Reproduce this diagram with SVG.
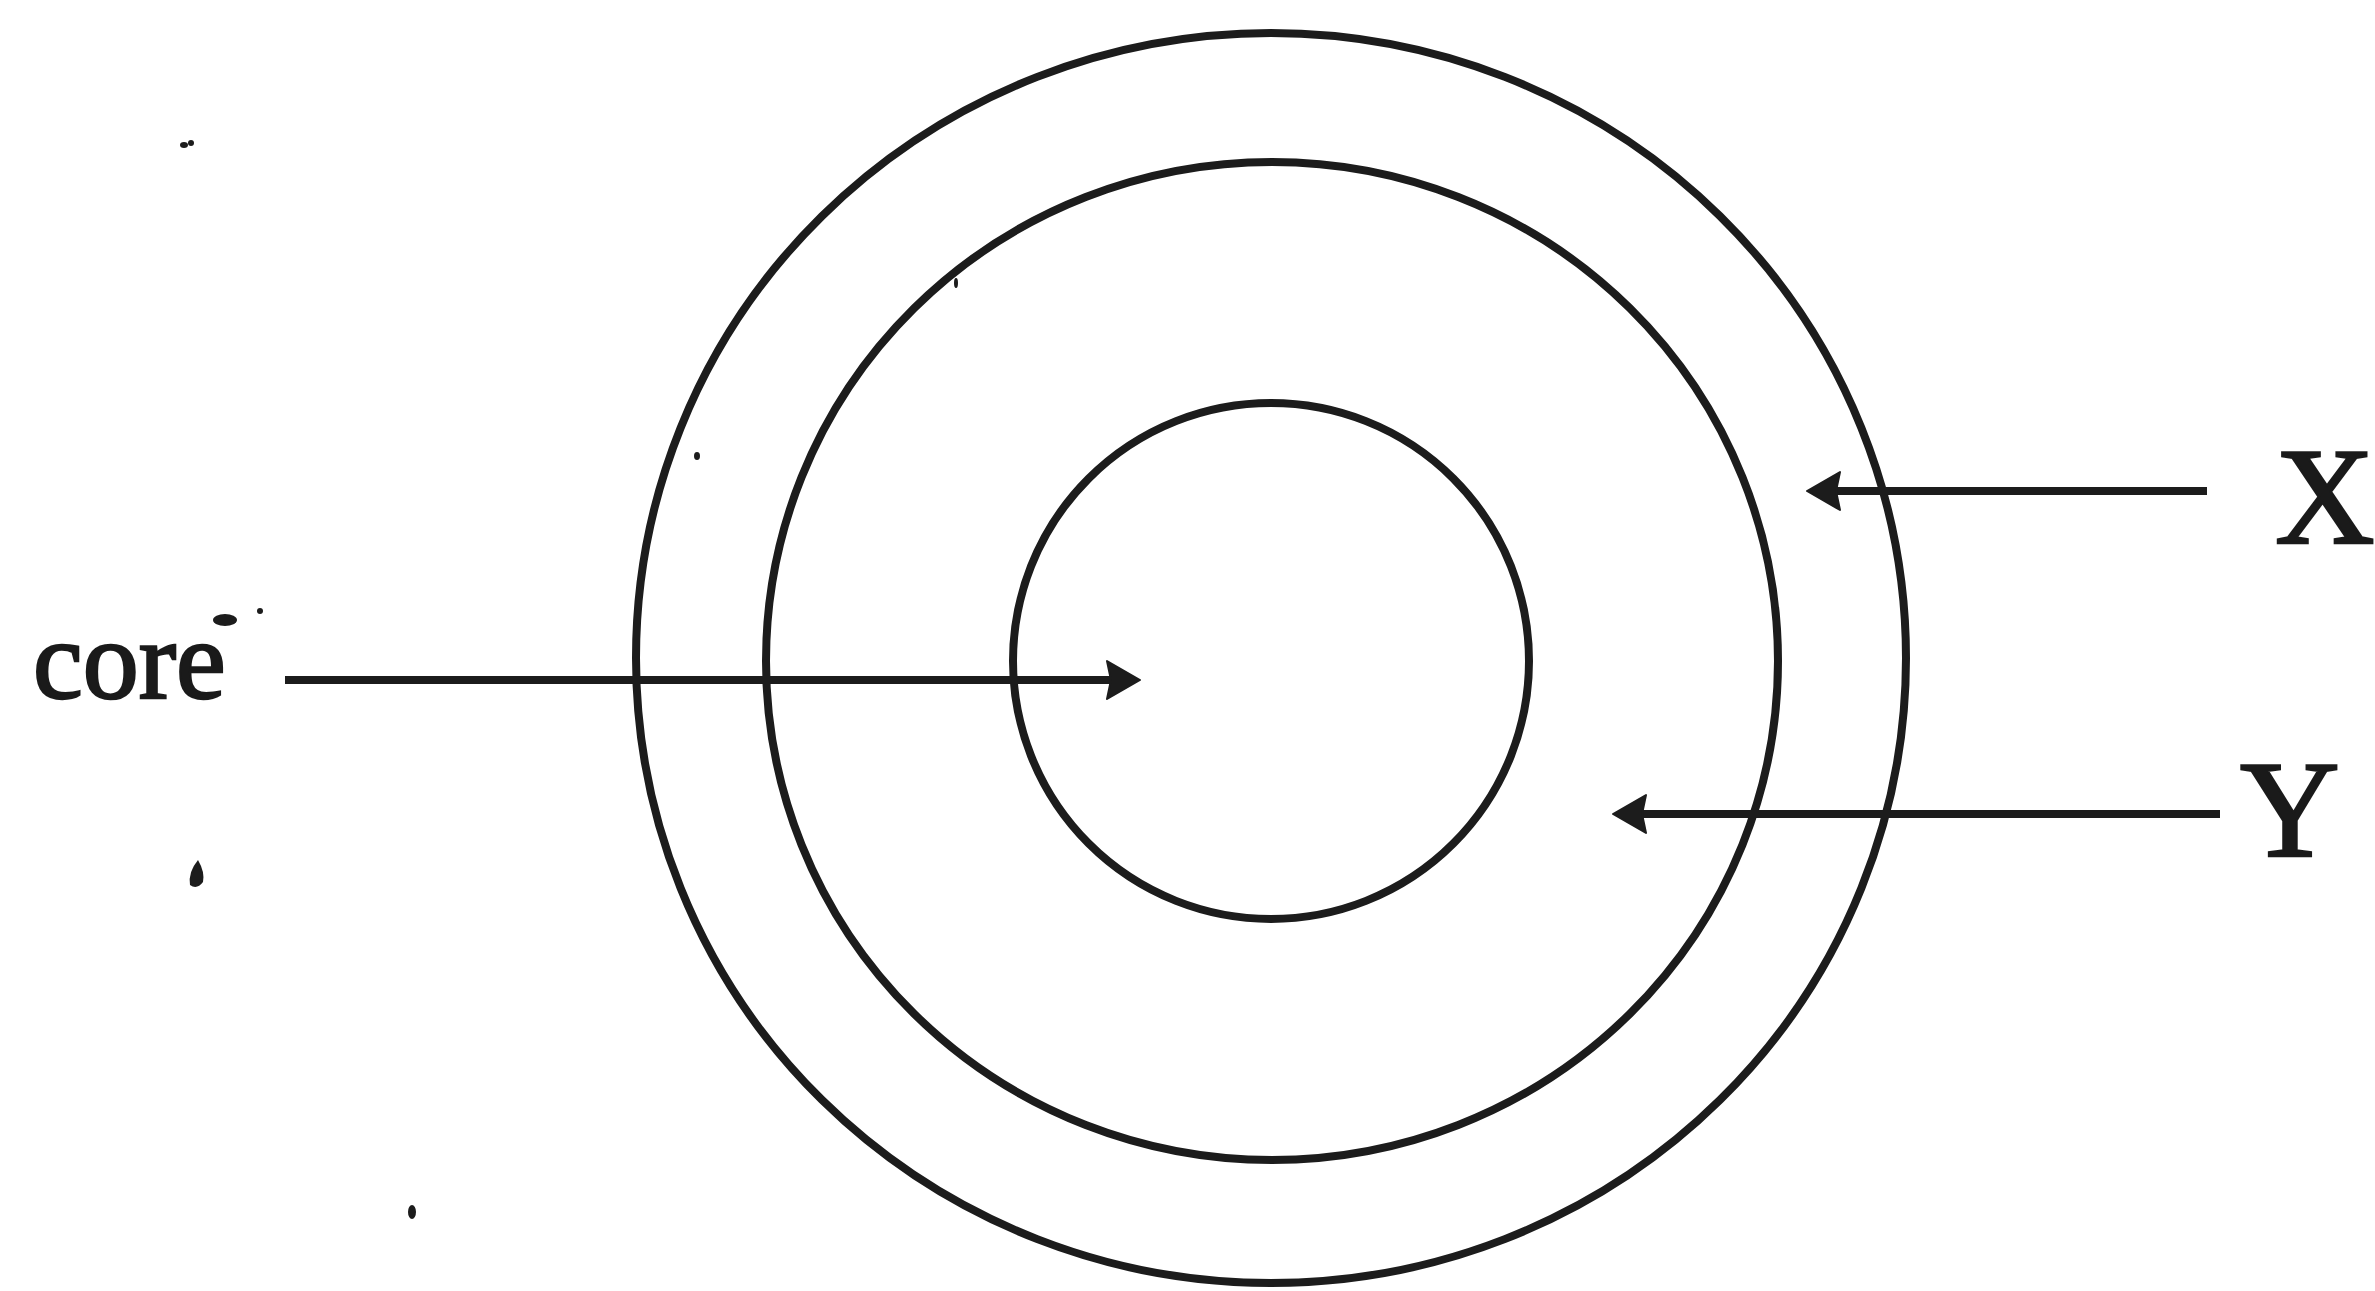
<svg xmlns="http://www.w3.org/2000/svg" width="2375" height="1291" viewBox="0 0 2375 1291">
  <style>
    .ring { fill: none; stroke: #1c1c1c; stroke-width: 8; }
    .conn { fill: none; stroke: #1c1c1c; stroke-width: 8; }
    .lbl { font-family: "Liberation Serif", "Times New Roman", serif; fill: #1a1a1a; stroke: #1a1a1a; stroke-width: 2.5; }
    .speck { fill: #1c1c1c; }
    .head { fill: #1c1c1c; stroke: #1c1c1c; stroke-width: 2; stroke-linejoin: round; }
  </style>
  <defs>
    <marker id="arrow" markerUnits="userSpaceOnUse" markerWidth="40" markerHeight="46" viewBox="-2 -2 40 46" refX="12" refY="21" orient="auto">
      <path class="head" d="M0,2 L33,21 L0,40 L4,21 z"/>
    </marker>
  </defs>
  <rect width="2375" height="1291" fill="#ffffff"/>

  <g id="outer-layer">
    <ellipse class="ring" cx="1271" cy="658" rx="635" ry="625"/>
  </g>
  <g id="layer-y">
    <ellipse class="ring" cx="1272" cy="661" rx="506" ry="499"/>
  </g>
  <g id="core">
    <ellipse class="ring" cx="1271" cy="661" rx="258" ry="258"/>
  </g>

  <g id="connectors">
    <line class="conn" x1="285" y1="680" x2="1119" y2="680" marker-end="url(#arrow)"/>
    <line class="conn" x1="2207" y1="491" x2="1828" y2="491" marker-end="url(#arrow)"/>
    <line class="conn" x1="2220" y1="814" x2="1634" y2="814" marker-end="url(#arrow)"/>
  </g>

  <g id="label-core">
    <text class="lbl" x="33" y="698" font-size="112">core</text>
  </g>
  <g id="label-x">
    <text class="lbl" x="2275" y="543" font-size="138">X</text>
  </g>
  <g id="label-y">
    <text class="lbl" x="2240" y="856" font-size="138">Y</text>
  </g>

  <g id="specks">
    <ellipse class="speck" cx="184" cy="145" rx="4" ry="3"/>
    <ellipse class="speck" cx="191" cy="143" rx="3" ry="3"/>
    <ellipse class="speck" cx="225" cy="620" rx="12" ry="6"/>
    <ellipse class="speck" cx="260" cy="611" rx="3" ry="3"/>
    <path class="speck" d="M190,885 Q188,872 198,860 Q205,872 203,882 Q197,890 190,885 z"/>
    <ellipse class="speck" cx="412" cy="1212" rx="4" ry="7"/>
    <ellipse class="speck" cx="697" cy="456" rx="3" ry="4"/>
    <ellipse class="speck" cx="956" cy="283" rx="2" ry="5"/>
  </g>
</svg>
